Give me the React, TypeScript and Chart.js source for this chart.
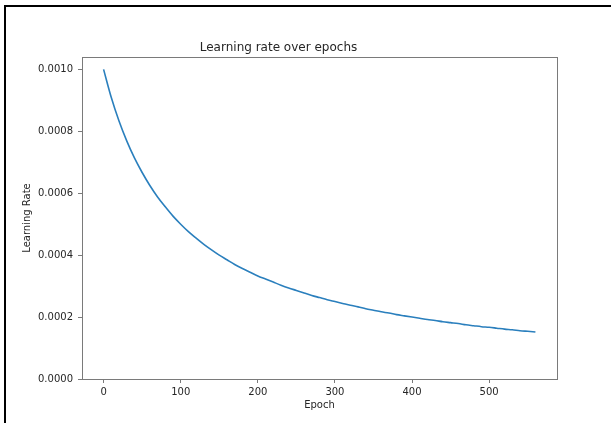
import React, { useEffect, useRef } from "react";
import { Chart, registerables } from "chart.js";

Chart.register(...registerables);

const epochs = [
  0, 10, 20, 30, 40, 50, 60, 70, 80, 90, 100, 110, 120, 130, 140, 150, 160, 170, 180, 190,
  200, 210, 220, 230, 240, 250, 260, 270, 280, 290, 300, 310, 320, 330, 340, 350, 360, 370,
  380, 390, 400, 410, 420, 430, 440, 450, 460, 470, 480, 490, 500, 510, 520, 530, 540, 550, 560,
];

const learningRates = [
  0.001, 0.000909, 0.000833, 0.000769, 0.000714, 0.000667, 0.000625, 0.000588, 0.000556,
  0.000526, 0.0005, 0.000476, 0.000455, 0.000435, 0.000417, 0.0004, 0.000385, 0.00037,
  0.000357, 0.000345, 0.000333, 0.000323, 0.000313, 0.000303, 0.000294, 0.000286, 0.000278,
  0.00027, 0.000263, 0.000256, 0.00025, 0.000244, 0.000238, 0.000233, 0.000227, 0.000222,
  0.000217, 0.000213, 0.000208, 0.000204, 0.0002, 0.000196, 0.000192, 0.000189, 0.000185,
  0.000182, 0.000179, 0.000175, 0.000172, 0.000169, 0.000167, 0.000164, 0.000161, 0.000159,
  0.000156, 0.000154, 0.000152,
];

const xTickValues = [0, 100, 200, 300, 400, 500];
const xTickLabels = ["0", "100", "200", "300", "400", "500"];
const yTickValues = [0, 0.0002, 0.0004, 0.0006, 0.0008, 0.001];
const yTickLabels = ["0.0000", "0.0002", "0.0004", "0.0006", "0.0008", "0.0010"];

const FONT = "'DejaVu Sans', sans-serif";
const SPINE = "#7a7a7a";
const TEXT = "#262626";

const framePlugin = {
  id: "frameAndSpines",
  beforeDraw(chart: any) {
    const ctx = chart.ctx;
    ctx.save();
    ctx.fillStyle = "#ffffff";
    ctx.fillRect(0, 0, chart.width, chart.height);
    ctx.strokeStyle = "#000000";
    ctx.lineWidth = 2;
    ctx.beginPath();
    ctx.moveTo(5, chart.height);
    ctx.lineTo(5, 6);
    ctx.lineTo(chart.width, 6);
    ctx.stroke();
    ctx.restore();
  },
  afterDraw(chart: any) {
    const { left, right, top, bottom } = chart.chartArea;
    const ctx = chart.ctx;
    ctx.save();
    ctx.strokeStyle = SPINE;
    ctx.lineWidth = 1;
    ctx.strokeRect(Math.round(left) + 0.5, Math.round(top) + 0.5, Math.round(right - left), Math.round(bottom - top));
    ctx.restore();
  },
};

export default function App() {
  const ref = useRef<HTMLCanvasElement | null>(null);

  useEffect(() => {
    if (!ref.current) return;
    const chart = new Chart(ref.current, {
      type: "line",
      data: {
        datasets: [
          {
            data: epochs.map((e, i) => ({ x: e, y: learningRates[i] })),
            borderColor: "#2a7fbd",
            borderWidth: 1.6,
            pointRadius: 0,
            fill: false,
            cubicInterpolationMode: "monotone",
          },
        ],
      },
      options: {
        responsive: false,
        animation: false,
        devicePixelRatio: 1,
        layout: { padding: { left: 0, right: 54, top: 0, bottom: 0 } },
        plugins: {
          legend: { display: false },
          tooltip: { enabled: false },
          title: {
            display: true,
            text: "Learning rate over epochs",
            color: TEXT,
            font: { family: FONT, size: 12, weight: "normal" },
            padding: { top: 41, bottom: 1.6 },
          },
        },
        scales: {
          x: {
            type: "linear",
            min: -28,
            max: 588,
            afterBuildTicks: (scale: any) => {
              scale.ticks = xTickValues.map((v) => ({ value: v }));
            },
            afterFit: (scale: any) => {
              scale.height = 44;
            },
            ticks: {
              color: TEXT,
              font: { family: FONT, size: 10 },
              padding: 3,
              maxRotation: 0,
              autoSkip: false,
              callback: (v: any) => {
                const i = xTickValues.indexOf(Number(v));
                return i >= 0 ? xTickLabels[i] : "";
              },
            },
            grid: { drawOnChartArea: false, drawTicks: true, tickLength: 4, color: SPINE },
            border: { display: false },
            title: {
              display: true,
              text: "Epoch",
              color: TEXT,
              font: { family: FONT, size: 10 },
              padding: { top: 0, bottom: 12 },
            },
          },
          y: {
            type: "linear",
            min: 0,
            max: 0.00104,
            afterBuildTicks: (scale: any) => {
              scale.ticks = yTickValues.map((v) => ({ value: v }));
            },
            afterFit: (scale: any) => {
              scale.width = 82;
            },
            ticks: {
              color: TEXT,
              font: { family: FONT, size: 10 },
              padding: 5,
              autoSkip: false,
              callback: (v: any) => {
                const i = yTickValues.findIndex((t) => Math.abs(t - Number(v)) < 1e-9);
                return i >= 0 ? yTickLabels[i] : "";
              },
            },
            grid: { drawOnChartArea: false, drawTicks: true, tickLength: 4, color: SPINE },
            border: { display: false },
            title: {
              display: true,
              text: "Learning Rate",
              color: TEXT,
              font: { family: FONT, size: 10 },
              padding: { top: 21, bottom: 0 },
            },
          },
        },
      },
      plugins: [framePlugin],
    } as any);
    return () => chart.destroy();
  }, []);

  return (
    <div style={{ position: "absolute", left: 0, top: 0, width: 611, height: 423, background: "#fff" }}>
      <canvas ref={ref} width={611} height={423} style={{ width: 611, height: 423, display: "block" }} />
    </div>
  );
}
